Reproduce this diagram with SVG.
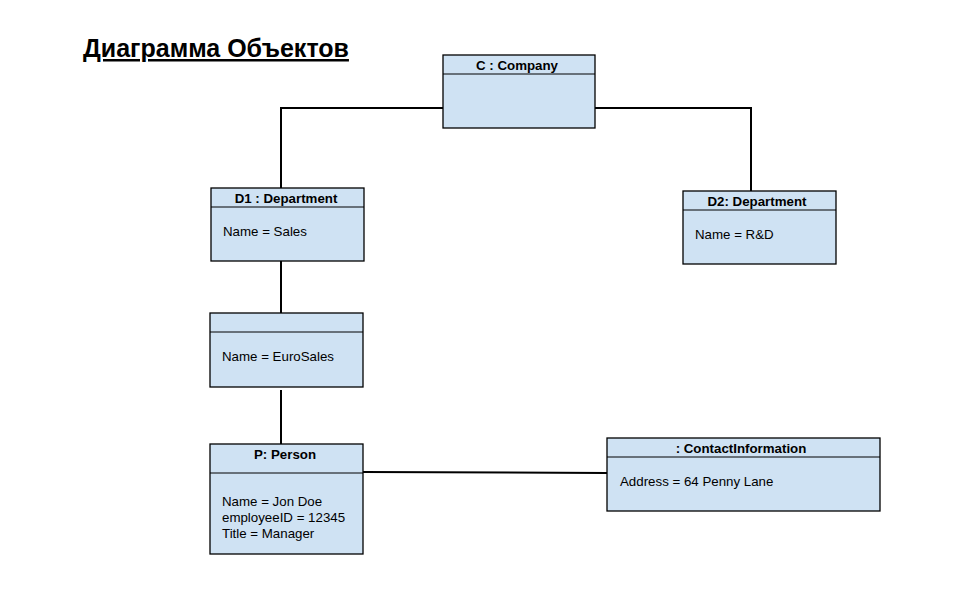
<svg xmlns="http://www.w3.org/2000/svg" width="960" height="600" viewBox="0 0 960 600">
<style>
.box{fill:#cfe2f3;stroke:#000;stroke-width:1.3}
.div{stroke:#000;stroke-width:1}
.hd{font-family:"Liberation Sans",Arial,sans-serif;font-size:13.3px;font-weight:bold;text-anchor:middle;fill:#000}
.at{font-family:"Liberation Sans",Arial,sans-serif;font-size:13.3px;fill:#000}
.con{fill:none;stroke:#000;stroke-width:2}
</style>
<rect width="960" height="600" fill="#fff"/>
<text x="83" y="57" font-family="'Liberation Sans',Arial,sans-serif" font-size="25" font-weight="bold" text-decoration="underline" fill="#000">Диаграмма Объектов</text>
<g id="connectors">
<polyline class="con" points="443,108 281,108 281,188"/>
<polyline class="con" points="595,108 751,108 751,191"/>
<line class="con" x1="281" y1="261" x2="281" y2="313"/>
<line class="con" x1="281" y1="390" x2="281" y2="444"/>
<line class="con" x1="363" y1="472" x2="607" y2="473"/>
</g>
<g id="company">
<rect class="box" x="443" y="55" width="152" height="73"/>
<line class="div" x1="443" y1="74" x2="595" y2="74"/>
<text class="hd" x="517" y="70">C : Company</text>
</g>
<g id="d1">
<rect class="box" x="211" y="188" width="153" height="73"/>
<line class="div" x1="211" y1="207" x2="364" y2="207"/>
<text class="hd" x="286" y="203">D1 : Department</text>
<text class="at" x="223" y="236">Name = Sales</text>
</g>
<g id="d2">
<rect class="box" x="683" y="191" width="153" height="73"/>
<line class="div" x1="683" y1="210" x2="836" y2="210"/>
<text class="hd" x="757" y="206">D2: Department</text>
<text class="at" x="695" y="239">Name = R&amp;D</text>
</g>
<g id="eurosales">
<rect class="box" x="210" y="313" width="153" height="74"/>
<line class="div" x1="210" y1="332" x2="363" y2="332"/>
<text class="at" x="222" y="361">Name = EuroSales</text>
</g>
<g id="person">
<rect class="box" x="210" y="444" width="153" height="110"/>
<line class="div" x1="210" y1="473" x2="363" y2="473"/>
<text class="hd" x="285" y="459">P: Person</text>
<text class="at" x="222" y="506">Name = Jon Doe</text>
<text class="at" x="222" y="522">employeeID = 12345</text>
<text class="at" x="222" y="538">Title = Manager</text>
</g>
<g id="contact">
<rect class="box" x="607" y="438" width="273" height="73"/>
<line class="div" x1="607" y1="457" x2="880" y2="457"/>
<text class="hd" x="741" y="453">: ContactInformation</text>
<text class="at" x="620" y="486">Address = 64 Penny Lane</text>
</g>
</svg>
